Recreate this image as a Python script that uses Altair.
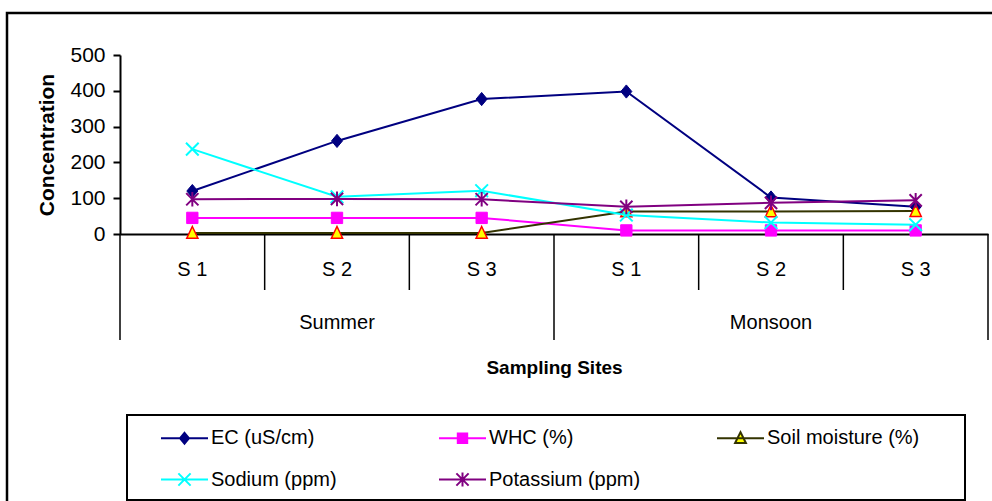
import altair as alt
import pandas as pd

# ---- data ----
sites = ["S 1", "S 2", "S 3", "S 1", "S 2", "S 3"]
seasons = ["Summer", "Summer", "Summer", "Monsoon", "Monsoon", "Monsoon"]
season_names = ["Summer", "Monsoon"]
series_names = ["EC (uS/cm)", "WHC (%)", "Soil moisture (%)", "Sodium (ppm)", "Potassium (ppm)"]
ec = [120, 260, 377, 398, 102, 76]
whc = [45, 45, 45, 10, 10, 10]
soil = [3, 3, 3, 63, 63, 64]
sodium = [237, 104, 121, 53, 32, 26]
potassium = [97, 98, 97, 76, 87, 94]
y_ticks = [0, 100, 200, 300, 400, 500]

# ---- styles ----
FONT = "Liberation Sans"
line_colors = ["#000080", "#FF00FF", "#333300", "#00FFFF", "#800080"]
marker_fill = ["#000080", "#FF00FF", "#FFFF00", "transparent", "transparent"]
marker_stroke = ["#000080", "#FF00FF", "#FF0000", "#00FFFF", "#800080"]
marker_paths = [
    "M0,-1.2L1,0L0,1.2L-1,0Z",
    "M-1,-1L1,-1L1,1L-1,1Z",
    "M0,-1.15L1,0.95L-1,0.95Z",
    "M-1,-1L1,1M-1,1L1,-1",
    "M-1,-1L1,1M-1,1L1,-1M0,-1.2L0,1.2",
]
marker_sizes = [121, 128, 125, 160, 150]
marker_filled = [True, True, True, False, False]
legend_fill = ["#000080", "#FF00FF", "#FFFF00", "transparent", "transparent"]
legend_stroke = ["#000080", "#FF00FF", "#333300", "#00FFFF", "#800080"]
legend_paths = [
    "M-1,0L1,0M0,-0.23L0.19,0L0,0.23L-0.19,0Z",
    "M-1,0L1,0M-0.2,-0.2L0.2,-0.2L0.2,0.2L-0.2,0.2Z",
    "M-1,0L1,0M0,-0.26L0.23,0.2L-0.23,0.2Z",
    "M-1,0L1,0M-0.26,-0.26L0.26,0.26M-0.26,0.26L0.26,-0.26",
    "M-1,0L1,0M-0.26,-0.26L0.26,0.26M-0.26,0.26L0.26,-0.26M0,-0.3L0,0.3",
]

values = [ec, whc, soil, sodium, potassium]
n = len(sites)
rows = []
for s, vals in zip(series_names, values):
    for i, v in enumerate(vals):
        rows.append({"series": s, "pos": i + 0.5, "site": sites[i], "season": seasons[i], "value": v})
df = pd.DataFrame(rows)

site_df = pd.DataFrame({"pos": [i + 0.5 for i in range(n)], "site": sites})
season_df = pd.DataFrame({
    "pos": [sum(i + 0.5 for i in range(n) if seasons[i] == s) / seasons.count(s) for s in season_names],
    "season": season_names,
})
group_bounds = [0] + [i for i in range(1, n) if seasons[i] != seasons[i - 1]] + [n]
minor_bounds = [i for i in range(1, n) if i not in group_bounds]
group_df = pd.DataFrame({"pos": group_bounds})
minor_df = pd.DataFrame({"pos": minor_bounds})

W, H = 868, 179
xscale = alt.Scale(domain=[0, n], nice=False, zero=False)
x_axis = alt.Axis(labels=False, ticks=False, grid=False, domain=True, domainColor="black",
                  domainWidth=2, title="Sampling Sites", titleFont=FONT, titleFontSize=19,
                  titleFontWeight="bold", titleColor="black", titleY=133, titleBaseline="middle")
X = alt.X("pos:Q", scale=xscale, axis=x_axis)
yscale = alt.Scale(domain=[0, 500], nice=False)
y_axis = alt.Axis(values=y_ticks, tickSize=7, tickColor="black", tickWidth=2, domainColor="black",
                  domainWidth=2, labelFont=FONT, labelFontSize=21, labelColor="black", labelPadding=8,
                  grid=False, title="Concentration", titleFont=FONT, titleFontSize=21,
                  titleFontWeight="bold", titleColor="black", titleX=-73, titleY=H / 2,
                  titleAngle=270, titleAlign="center", titleBaseline="middle")
Y = alt.Y("value:Q", scale=yscale, axis=y_axis)

layers = []

# outer chart border
layers.append(alt.Chart(pd.DataFrame({"a": [0]})).mark_rect(fill="transparent", stroke="black", strokeWidth=2.5).encode(
    x=alt.value(-113), x2=alt.value(W + 20), y=alt.value(-42), y2=alt.value(H + 300)))

# series
for k, s in enumerate(series_names):
    base = alt.Chart(df).transform_filter(alt.datum.series == s)
    layers.append(base.mark_line(color=line_colors[k], strokeWidth=2).encode(x=X, y=Y))
    if marker_filled[k]:
        pm = base.mark_point(shape=marker_paths[k], size=marker_sizes[k], filled=True,
                             fill=marker_fill[k], stroke=marker_stroke[k],
                             strokeWidth=1.5 if k == 2 else 1, opacity=1)
    else:
        pm = base.mark_point(shape=marker_paths[k], size=marker_sizes[k], filled=False,
                             stroke=marker_stroke[k], strokeWidth=2, opacity=1)
    layers.append(pm.encode(x=X, y=Y))

# category separators and labels
layers.append(alt.Chart(minor_df).mark_rule(color="black", strokeWidth=1.5).encode(
    x=X, y=alt.value(H), y2=alt.value(H + 56)))
layers.append(alt.Chart(group_df).mark_rule(color="black", strokeWidth=1.5).encode(
    x=X, y=alt.value(H), y2=alt.value(H + 106)))
layers.append(alt.Chart(site_df).mark_text(font=FONT, fontSize=20, color="black", baseline="middle").encode(
    x=X, y=alt.value(H + 36), text="site:N"))
layers.append(alt.Chart(season_df).mark_text(font=FONT, fontSize=20, color="black", baseline="middle").encode(
    x=X, y=alt.value(H + 89), text="season:N"))

# legend box
layers.append(alt.Chart(pd.DataFrame({"a": [0]})).mark_rect(fill="transparent", stroke="black", strokeWidth=2).encode(
    x=alt.value(7), x2=alt.value(845), y=alt.value(360), y2=alt.value(445)))

# legend (drawn by Vega-Lite from the scales)
leg = alt.Legend(orient="none", legendX=40, legendY=358, direction="horizontal", columns=3,
                 gridAlign="all", columnPadding=71, rowPadding=6, symbolSize=2209,
                 symbolStrokeWidth=2, symbolOpacity=1, labelFont=FONT, labelFontSize=20,
                 labelColor="black", labelOffset=2, labelLimit=400, title=None, padding=0)
legend_layer = alt.Chart(pd.DataFrame({"series": series_names, "pos": 0.0, "value": 0.0})).transform_filter(
    "false").mark_point(filled=True, opacity=1).encode(
    x=X,
    y=Y,
    shape=alt.Shape("series:N", scale=alt.Scale(domain=series_names, range=legend_paths), legend=leg),
    fill=alt.Fill("series:N", scale=alt.Scale(domain=series_names, range=legend_fill), legend=leg),
    stroke=alt.Stroke("series:N", scale=alt.Scale(domain=series_names, range=legend_stroke), legend=leg),
)
layers.append(legend_layer)

chart = alt.layer(*layers).properties(
    width=W, height=H,
    autosize=alt.AutoSizeParams(type="none"),
    padding={"left": 120, "top": 55, "right": 4, "bottom": 267},
    background="white",
).configure_view(stroke=None)

chart.save("out.html", embed_options={"renderer": "svg", "actions": False})
